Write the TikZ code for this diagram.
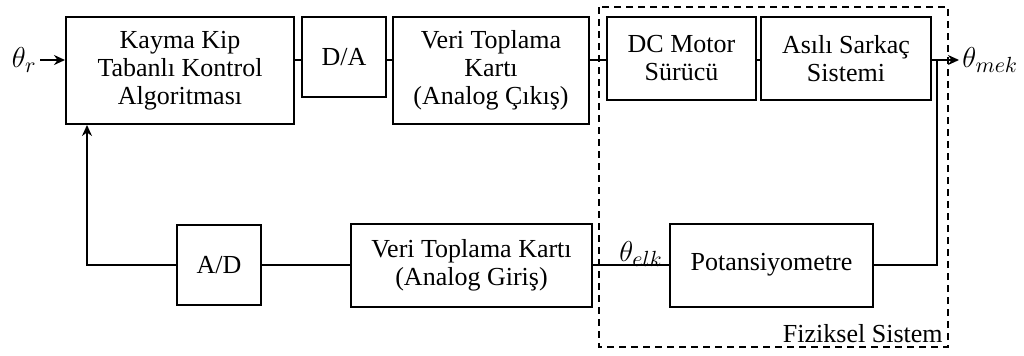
\documentclass[tikz,border=0pt]{standalone}
\usepackage{fontspec}
\setmainfont{Liberation Serif}
\usetikzlibrary{arrows.meta}
\begin{document}
\begin{tikzpicture}[x=0.5pt,y=-0.5pt,
  blk/.style={draw,line width=1pt,inner sep=0pt,align=center,
    font=\fontsize{13}{14}\selectfont},
  conn/.style={line width=1pt},
  arr/.style={line width=1pt,-{Stealth[length=5.5pt,width=5pt]}},
  lbl/.style={font=\fontsize{15.5}{15.5}\selectfont,inner sep=1.5pt},
  frame/.style={line width=0.9pt,dash pattern=on 3.5pt off 2.5pt}]
\useasboundingbox (0,0) rectangle (1024,355);
% blocks
\node[blk,minimum width=114pt,minimum height=53.5pt] (kayma) at (180,70.5) {Kayma Kip\\Tabanlı Kontrol\\Algoritması};
\node[blk,minimum width=42pt,minimum height=40pt] (da) at (344,57) {D/A};
\node[blk,minimum width=98pt,minimum height=53.5pt] (vcikis) at (491,70.5) {Veri Toplama\\Kartı\\(Analog Çıkış)};
\node[blk,minimum width=74.5pt,minimum height=41.5pt] (dcm) at (681.5,58.5) {DC Motor\\Sürücü};
\node[blk,minimum width=85pt,minimum height=41.5pt] (sarkac) at (846,58.5) {Asılı Sarkaç\\Sistemi};
\node[blk,minimum width=42pt,minimum height=40pt] (ad) at (219,265) {A/D};
\node[blk,minimum width=120.5pt,minimum height=41.5pt] (vgiris) at (471.5,265) {Veri Toplama Kartı\\(Analog Giriş)};
\node[blk,minimum width=101.5pt,minimum height=41.5pt] (pot) at (771.5,265) {Potansiyometre};
% frame
\draw[frame] (599,7) rectangle (948,347);
\node[anchor=base east,inner sep=0pt,font=\fontsize{13}{14}\selectfont] (fiz) at (943,342) {Fiziksel Sistem};
% reference lines
\coordinate (yline) at (0,60);
\coordinate (rin) at (40,60);
\coordinate (out) at (959,60);
\coordinate (fbx) at (937,0);
\coordinate (fbl) at (87,0);
% labels
\node[lbl,anchor=east] (thr) at (rin) {$\theta_r$};
\node[lbl,anchor=west] (thm) at (out) {$\theta_{mek}$};
\node[lbl,anchor=base,inner sep=0pt] (the) at (641,261) {$\theta_{elk}$};
% connectors
\draw[arr] (rin) -- (kayma.west |- yline);
\draw[conn] (kayma.east |- yline) -- (da.west |- yline);
\draw[conn] (da.east |- yline) -- (vcikis.west |- yline);
\draw[conn] (vcikis.east |- yline) -- (dcm.west |- yline);
\draw[conn] (dcm.east |- yline) -- (sarkac.west |- yline);
\draw[arr] (sarkac.east |- yline) -- (out);
\draw[conn] (fbx |- yline) -- (fbx |- pot.east) -- (pot.east);
\draw[conn] (pot.west) -- (vgiris.east);
\draw[conn] (vgiris.west) -- (ad.east);
\draw[arr] (ad.west) -- (fbl |- ad.west) -- (fbl |- kayma.south);
\end{tikzpicture}
\end{document}
